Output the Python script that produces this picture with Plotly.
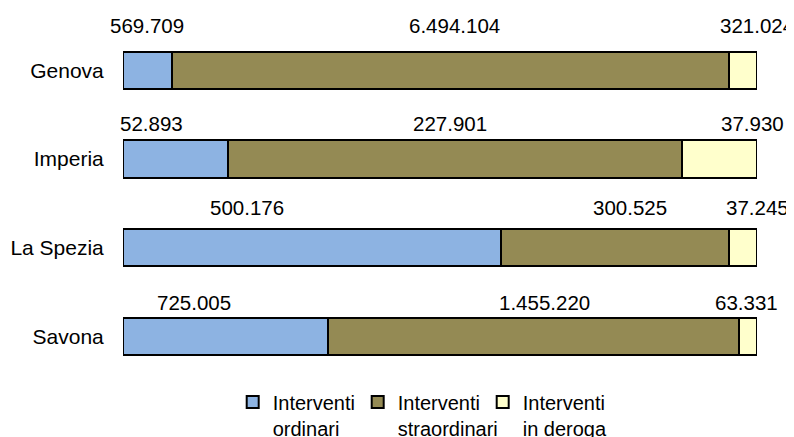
import plotly.graph_objects as go

# ---- data ----
provinces = ["Genova", "Imperia", "La Spezia", "Savona"]
ordinari = [569709, 52893, 500176, 725005]
straordinari = [6494104, 227901, 300525, 1455220]
deroga = [321024, 37930, 37245, 63331]
series_names = ["Interventi<br>ordinari", "Interventi<br>straordinari", "Interventi<br>in deroga"]

# ---- styling ----
colors = ["#8DB3E2", "#948A54", "#FFFFCC"]
FONT = "Liberation Sans, Arial, sans-serif"
FS = 21
# label nudges (pixels) relative to segment centre, per province / per series
label_xshift = [[0, 4, 14], [-24, -5, 33], [-65, 15, 15], [-31, 11, -2]]
label_yshift = [45, 36, 40, 34]

series = [ordinari, straordinari, deroga]

fig = go.Figure()
for name, vals, col in zip(series_names, series, colors):
    fig.add_trace(go.Bar(
        y=provinces, x=vals, name=name, orientation="h",
        marker=dict(color=col, line=dict(color="black", width=2)),
        hoverinfo="x+y",
    ))


def fmt(v):
    return f"{v:,}".replace(",", ".")


annotations = []
for i, p in enumerate(provinces):
    total = sum(s[i] for s in series)
    start = 0.0
    for j, s in enumerate(series):
        pct = s[i] / total * 100
        centre = start + pct / 2
        start += pct
        annotations.append(dict(
            x=centre, y=p, xref="x", yref="y", text=fmt(s[i]),
            showarrow=False, xanchor="center", yanchor="middle",
            xshift=label_xshift[i][j], yshift=label_yshift[i],
            font=dict(family=FONT, size=FS - 0.5, color="black"),
        ))

fig.update_layout(
    width=794, height=437,
    margin=dict(l=115, r=45, t=18, b=61, autoexpand=False),
    barmode="stack", barnorm="percent", bargap=0.58,
    plot_bgcolor="white", paper_bgcolor="white",
    font=dict(family=FONT, size=FS, color="black"),
    showlegend=True,
    legend=dict(
        orientation="h", xref="container", yref="container",
        x=0.283, y=0.143, xanchor="left", yanchor="top",
        valign="top", traceorder="normal",
        entrywidth=80, entrywidthmode="pixels",
        font=dict(family=FONT, size=20, color="black"),
        itemclick=False, itemdoubleclick=False,
    ),
    annotations=annotations,
)
fig.update_xaxes(range=[0, 100], visible=False, showgrid=False, zeroline=False)
fig.update_yaxes(
    autorange="reversed", automargin=False,
    showgrid=False, zeroline=False, showline=False,
    ticks="outside", ticklen=14, tickcolor="rgba(0,0,0,0)",
    tickfont=dict(family=FONT, size=FS, color="black"),
)

fig.write_html("out.html")
